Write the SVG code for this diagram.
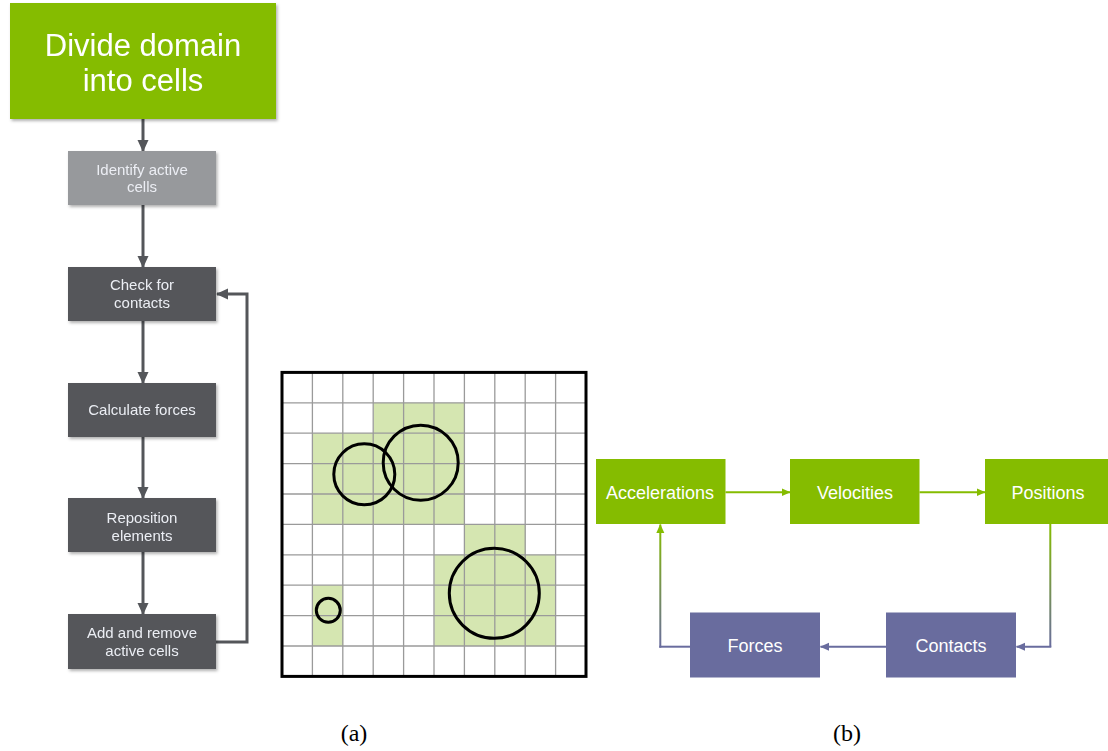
<svg xmlns="http://www.w3.org/2000/svg" width="1108" height="751" viewBox="0 0 1108 751">
  <style>
    .flow-dark { fill: #54565a; }
    .flow-grey { fill: #97999c; }
    .green { fill: #85bc00; }
    .purple { fill: #696c9e; }
    .lbl { font-family: "Liberation Sans", Arial, sans-serif; fill: #ffffff; text-anchor: middle; }
    .soft { fill: #eceef4; }
    .small { font-size: 15px; }
    .mid { font-size: 18px; }
    .big { font-size: 31px; }
    .cap { font-family: "Liberation Serif", "Times New Roman", serif; font-size: 24px; fill: #000; text-anchor: middle; }
    .gline { stroke: #9a9a9a; stroke-width: 1.3; }
    .ring { fill: none; stroke: #000; stroke-width: 3; }
    .conn-dark { fill: none; stroke: #54565a; stroke-width: 3; }
    .conn-b { fill: none; stroke-width: 2; }
  </style>
  <defs>
    <filter id="shadow" x="-10%" y="-10%" width="125%" height="130%">
      <feDropShadow dx="1.5" dy="2" stdDeviation="1.5" flood-color="#000" flood-opacity="0.3"/>
    </filter>
    <marker id="arrDark" markerUnits="userSpaceOnUse" markerWidth="12" markerHeight="12" viewBox="0 0 12 12" refX="11" refY="6" orient="auto">
      <path d="M0,0.5 L12,6 L0,11.5 Z" fill="#54565a"/>
    </marker>
    <marker id="arrGreen" markerUnits="userSpaceOnUse" markerWidth="9" markerHeight="9" viewBox="0 0 9 9" refX="8.5" refY="4.5" orient="auto">
      <path d="M0,0.5 L9,4.5 L0,8.5 Z" fill="#85bc00"/>
    </marker>
    <marker id="arrPurple" markerUnits="userSpaceOnUse" markerWidth="9" markerHeight="9" viewBox="0 0 9 9" refX="8.5" refY="4.5" orient="auto">
      <path d="M0,0.5 L9,4.5 L0,8.5 Z" fill="#696c9e"/>
    </marker>
    <linearGradient id="gDown" gradientUnits="userSpaceOnUse" x1="0" y1="524" x2="0" y2="647">
      <stop offset="0" stop-color="#85bc00"/>
      <stop offset="1" stop-color="#696c9e"/>
    </linearGradient>
    <linearGradient id="gUp" gradientUnits="userSpaceOnUse" x1="0" y1="647" x2="0" y2="524">
      <stop offset="0" stop-color="#696c9e"/>
      <stop offset="1" stop-color="#85bc00"/>
    </linearGradient>
  </defs>

  <rect width="1108" height="751" fill="#ffffff"/>

  <!-- (a) cell-based contact workflow -->
  <g id="connectors-a">
    <line class="conn-dark" x1="143" y1="119" x2="143" y2="151" marker-end="url(#arrDark)"/>
    <line class="conn-dark" x1="143" y1="205" x2="143" y2="267" marker-end="url(#arrDark)"/>
    <line class="conn-dark" x1="143" y1="321" x2="143" y2="383" marker-end="url(#arrDark)"/>
    <line class="conn-dark" x1="143" y1="437" x2="143" y2="498" marker-end="url(#arrDark)"/>
    <line class="conn-dark" x1="143" y1="552" x2="143" y2="614" marker-end="url(#arrDark)"/>
    <polyline class="conn-dark" points="216,642 247,642 247,294 217,294" marker-end="url(#arrDark)"/>
  </g>

  <g id="node-divide" filter="url(#shadow)">
    <rect class="green" x="10" y="3" width="266" height="116"/>
    <text class="lbl big" x="143" y="56">Divide domain</text>
    <text class="lbl big" x="143" y="91">into cells</text>
  </g>
  <g id="node-identify" filter="url(#shadow)">
    <rect class="flow-grey" x="68" y="151" width="148" height="54"/>
    <text class="lbl soft small" x="142" y="175">Identify active</text>
    <text class="lbl soft small" x="142" y="192">cells</text>
  </g>
  <g id="node-check" filter="url(#shadow)">
    <rect class="flow-dark" x="68" y="267" width="148" height="54"/>
    <text class="lbl soft small" x="142" y="290">Check for</text>
    <text class="lbl soft small" x="142" y="308">contacts</text>
  </g>
  <g id="node-calc" filter="url(#shadow)">
    <rect class="flow-dark" x="68" y="383" width="148" height="54"/>
    <text class="lbl soft small" x="142" y="415">Calculate forces</text>
  </g>
  <g id="node-reposition" filter="url(#shadow)">
    <rect class="flow-dark" x="68" y="498" width="148" height="54"/>
    <text class="lbl soft small" x="142" y="523">Reposition</text>
    <text class="lbl soft small" x="142" y="541">elements</text>
  </g>
  <g id="node-addremove" filter="url(#shadow)">
    <rect class="flow-dark" x="68" y="614" width="148" height="55"/>
    <text class="lbl soft small" x="142" y="638">Add and remove</text>
    <text class="lbl soft small" x="142" y="656">active cells</text>
  </g>

  <!-- cell grid with active cells and particles -->
  <g id="grid">
    <g fill="#d5e6b1">
      <rect x="373.6" y="402.8" width="91.2" height="30.4"/>
      <rect x="312.8" y="433.2" width="152" height="91.2"/>
      <rect x="464.8" y="524.4" width="60.8" height="30.4"/>
      <rect x="434.4" y="554.8" width="121.6" height="91.2"/>
      <rect x="312.8" y="585.2" width="30.4" height="60.8"/>
    </g>
    <g class="gline">
      <line x1="312.4" y1="372.4" x2="312.4" y2="676.4"/>
      <line x1="342.8" y1="372.4" x2="342.8" y2="676.4"/>
      <line x1="373.2" y1="372.4" x2="373.2" y2="676.4"/>
      <line x1="403.6" y1="372.4" x2="403.6" y2="676.4"/>
      <line x1="434" y1="372.4" x2="434" y2="676.4"/>
      <line x1="464.4" y1="372.4" x2="464.4" y2="676.4"/>
      <line x1="494.8" y1="372.4" x2="494.8" y2="676.4"/>
      <line x1="525.2" y1="372.4" x2="525.2" y2="676.4"/>
      <line x1="555.6" y1="372.4" x2="555.6" y2="676.4"/>
      <line x1="282" y1="402.8" x2="586" y2="402.8"/>
      <line x1="282" y1="433.2" x2="586" y2="433.2"/>
      <line x1="282" y1="463.6" x2="586" y2="463.6"/>
      <line x1="282" y1="494" x2="586" y2="494"/>
      <line x1="282" y1="524.4" x2="586" y2="524.4"/>
      <line x1="282" y1="554.8" x2="586" y2="554.8"/>
      <line x1="282" y1="585.2" x2="586" y2="585.2"/>
      <line x1="282" y1="615.6" x2="586" y2="615.6"/>
      <line x1="282" y1="646" x2="586" y2="646"/>
    </g>
    <rect x="282" y="372.4" width="304" height="304" fill="none" stroke="#000" stroke-width="3"/>
    <circle class="ring" cx="364.3" cy="474.3" r="30.5"/>
    <circle class="ring" cx="420.7" cy="462.7" r="37.5"/>
    <circle class="ring" cx="494.3" cy="593.3" r="45"/>
    <circle class="ring" cx="328.3" cy="610.3" r="12"/>
  </g>

  <!-- (b) time-integration loop -->
  <g id="connectors-b">
    <line class="conn-b" stroke="#85bc00" x1="725.5" y1="492.3" x2="790" y2="492.3" marker-end="url(#arrGreen)"/>
    <line class="conn-b" stroke="#85bc00" x1="919.5" y1="492.3" x2="985" y2="492.3" marker-end="url(#arrGreen)"/>
    <path class="conn-b" stroke="url(#gDown)" d="M1050.3,524 V646.7"/>
    <path class="conn-b" stroke="#696c9e" d="M1051.3,646.7 H1016.5" marker-end="url(#arrPurple)"/>
    <line class="conn-b" stroke="#696c9e" x1="886" y1="646.7" x2="820.5" y2="646.7" marker-end="url(#arrPurple)"/>
    <path class="conn-b" stroke="#696c9e" d="M690,646.7 H659.3"/>
    <path class="conn-b" stroke="url(#gUp)" d="M660.3,647.7 V524.5" marker-end="url(#arrGreen)"/>
  </g>

  <g id="node-accelerations">
    <rect class="green" x="596" y="459" width="129.5" height="65"/>
    <text class="lbl mid" x="660" y="498.5">Accelerations</text>
  </g>
  <g id="node-velocities">
    <rect class="green" x="790" y="459" width="129.5" height="65"/>
    <text class="lbl mid" x="855" y="498.5">Velocities</text>
  </g>
  <g id="node-positions">
    <rect class="green" x="985" y="459" width="123" height="65"/>
    <text class="lbl mid" x="1048" y="498.5">Positions</text>
  </g>
  <g id="node-contacts">
    <rect class="purple" x="886" y="612.5" width="130" height="65"/>
    <text class="lbl mid" x="951" y="652">Contacts</text>
  </g>
  <g id="node-forces">
    <rect class="purple" x="690" y="612.5" width="130" height="65"/>
    <text class="lbl mid" x="755" y="652">Forces</text>
  </g>

  <g id="captions">
    <text class="cap" x="354" y="741">(a)</text>
    <text class="cap" x="847" y="741">(b)</text>
  </g>
</svg>
